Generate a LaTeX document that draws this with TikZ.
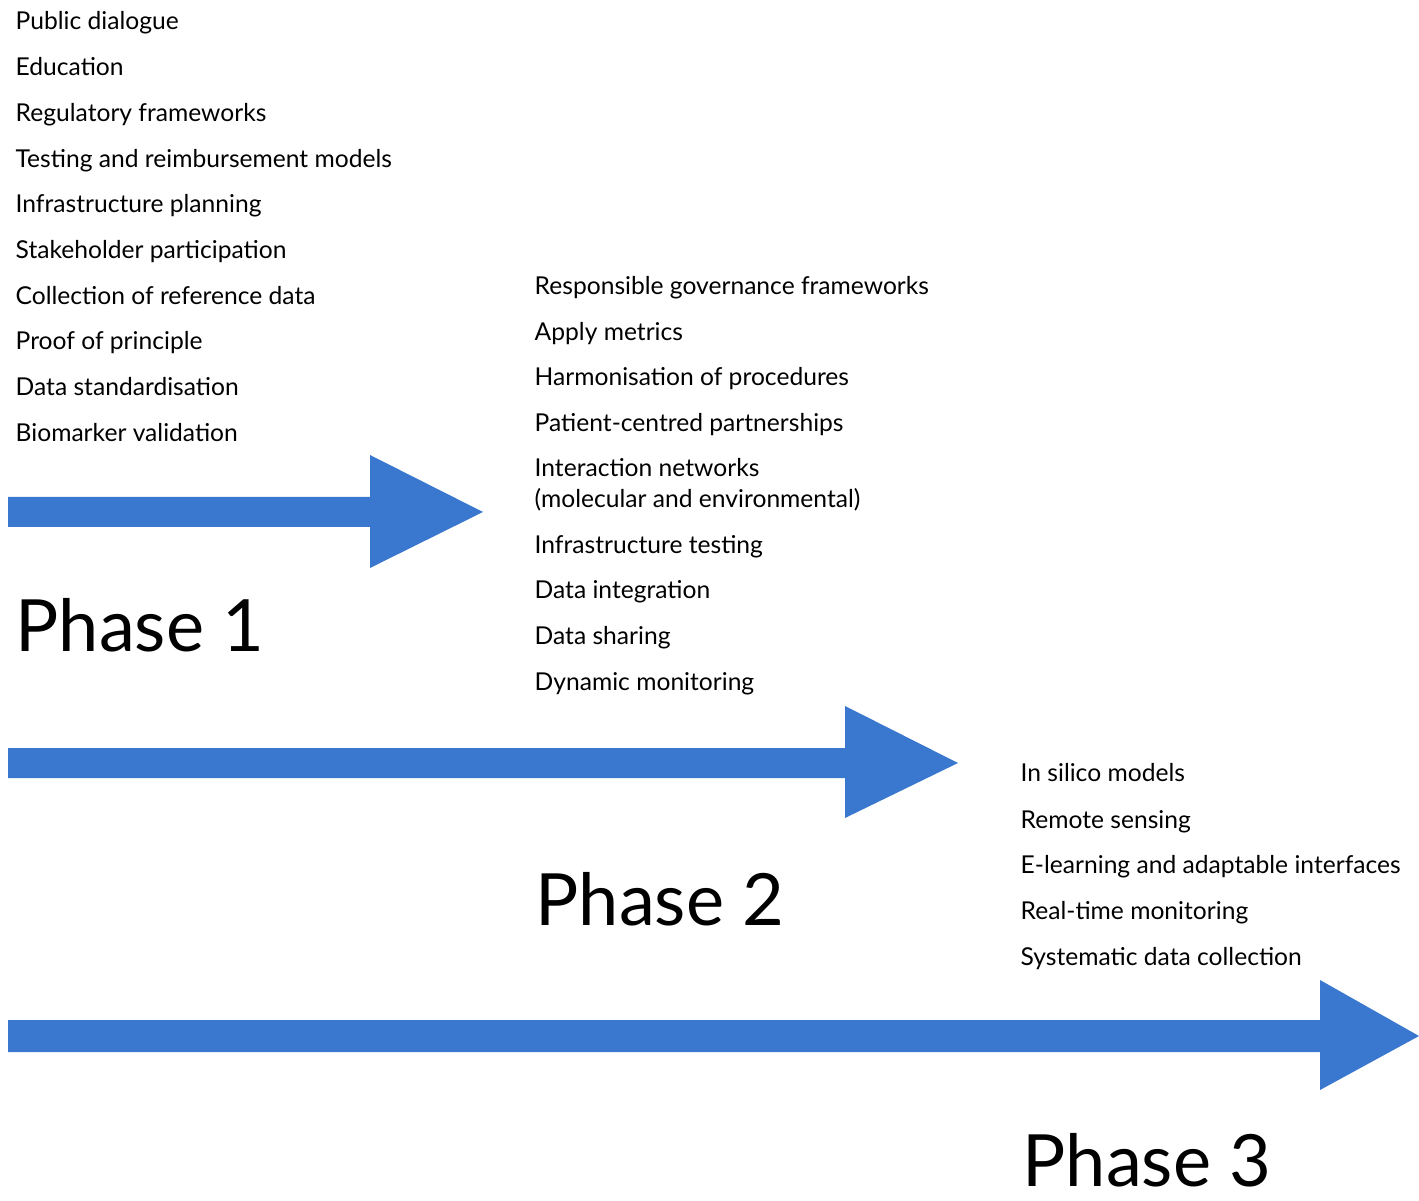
\documentclass[tikz,border=0pt]{standalone}
\usepackage{fontspec}
\setmainfont{Lato}
\definecolor{phaseblue}{HTML}{3A78D0}
\tikzset{
    item/.style={anchor=base west, inner sep=0pt, font=\fontsize{7}{8}\selectfont},
    phaselabel/.style={anchor=base west, inner sep=0pt, font=\fontsize{20.5}{24}\selectfont}
}
\begin{document}
\begin{tikzpicture}[x=0.01cm, y=-0.01cm]
    \useasboundingbox (0,0) rectangle (1419,1201);

    % Phase 1 items
    \foreach \txt [count=\i from 0] in {Public dialogue, Education, Regulatory frameworks,
        Testing and reimbursement models, Infrastructure planning, Stakeholder participation,
        Collection of reference data, Proof of principle, Data standardisation, Biomarker validation}
        \node[item] (one\i) at (15,{30+45.7*\i}) {\txt};

    % Phase 2 items
    \foreach \txt/\y [count=\i] in {Responsible governance frameworks/295, Apply metrics/341,
        Harmonisation of procedures/386, Patient-centred partnerships/432,
        Interaction networks/477, (molecular and environmental)/508,
        Infrastructure testing/554, Data integration/599, Data sharing/645, Dynamic monitoring/690}
        \node[item] (two\i) at (534,\y) {\txt};

    % Phase 3 items
    \foreach \txt/\y [count=\i] in {In silico models/781, Remote sensing/828,
        E-learning and adaptable interfaces/873, Real-time monitoring/919,
        Systematic data collection/965}
        \node[item] (three\i) at (1020,\y) {\txt};

    % Arrows
    \fill[phaseblue] (8,497) -- (370,497) -- (370,455) -- (483,512) -- (370,568) -- (370,527) -- (8,527) -- cycle;
    \fill[phaseblue] (8,748) -- (845,748) -- (845,706) -- (958,763) -- (845,818) -- (845,778) -- (8,778) -- cycle;
    \fill[phaseblue] (8,1020) -- (1320,1020) -- (1320,980) -- (1419,1036) -- (1320,1090) -- (1320,1052) -- (8,1052) -- cycle;

    % Phase labels
    \node[phaselabel] (ph1) at (15,652) {Phase 1};
    \node[phaselabel] (ph2) at (535,925) {Phase 2};
    \node[phaselabel] (ph3) at (1022,1186) {Phase 3};
\end{tikzpicture}
\end{document}
